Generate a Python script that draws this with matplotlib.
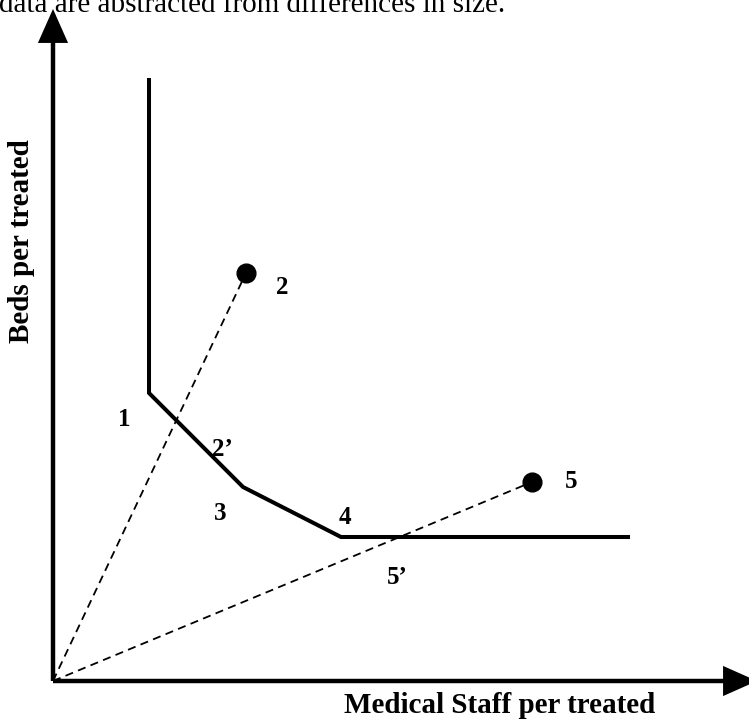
import matplotlib.pyplot as plt
from matplotlib.patches import FancyArrowPatch

# frontier (efficient units) in chart units, origin at the axes corner
frontier_x = [0.96, 0.96, 1.90, 2.88, 5.75]
frontier_y = [6.01, 2.88, 1.94, 1.44, 1.44]

# inefficient units
point_names = ['2', '5']
point_x = [1.93, 4.79]
point_y = [4.08, 1.99]

# labels next to the units
label_text = ['1', '2', "2\u2019", '3', '4', '5', "5\u2019"]
label_x = [0.71, 2.29, 1.69, 1.67, 2.92, 5.18, 3.44]
label_y = [2.62, 3.93, 2.31, 1.68, 1.64, 1.99, 1.04]

x_label = 'Medical Staff per treated'
y_label = 'Beds per treated'
top_text = 'data are abstracted from differences in size.'

plt.rcParams['font.family'] = ['Liberation Serif', 'DejaVu Serif']

fig = plt.figure(figsize=(7.49, 7.21), dpi=100)
ax = fig.add_axes([0, 0, 1, 1])
ax.set_xlim(-0.53, 6.96)
ax.set_ylim(-0.40, 6.81)
ax.axis('off')

# axes with arrow heads
for tip in [(0.0, 6.72), (7.04, 0.0)]:
    ax.add_patch(FancyArrowPatch((0, 0), tip, arrowstyle='-|>,head_length=1.35,head_width=0.6',
                                 mutation_scale=14, lw=3.2, color='black',
                                 shrinkA=0, shrinkB=0, joinstyle='miter', capstyle='butt'))

# rays from origin to inefficient units
for px, py in zip(point_x, point_y):
    ax.plot([0, px], [0, py], color='black', lw=1.3, ls=(0, (4.5, 3)))

ax.plot(frontier_x, frontier_y, color='black', lw=2.9, solid_joinstyle='miter')
ax.plot(point_x, point_y, 'o', color='black', ms=13.5)

for t, lx, ly in zip(label_text, label_x, label_y):
    ax.text(lx, ly, t, fontsize=18, fontweight='bold', ha='center', va='center')

ax.text(4.47, -0.32, x_label, fontsize=21, fontweight='bold', ha='center', va='baseline')
ax.text(-0.31, 4.40, y_label, fontsize=21, fontweight='bold', ha='center', va='center',
        rotation=90)
fig.text(-0.002, 1 - 12 / 721, top_text, fontsize=21, ha='left', va='baseline')

fig.savefig('out.png', dpi=100)
